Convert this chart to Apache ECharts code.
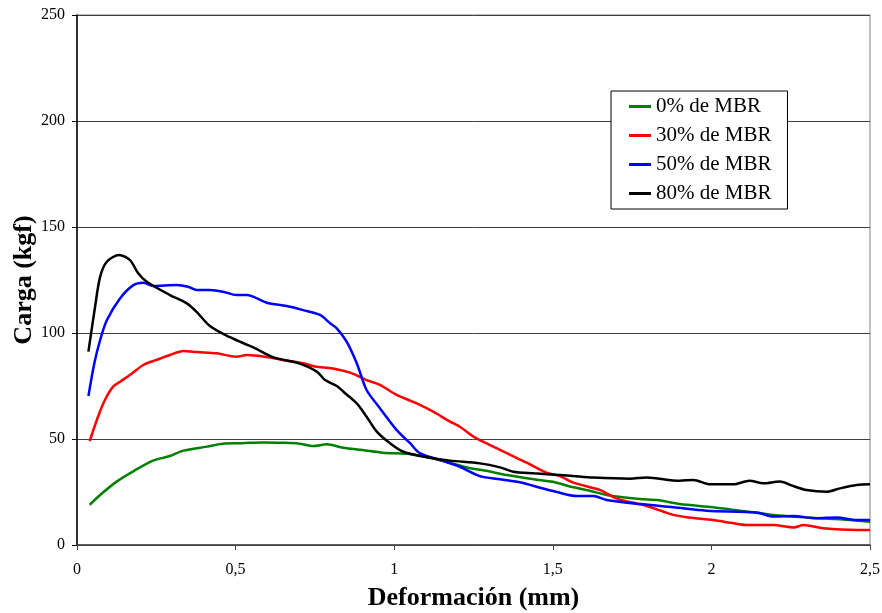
<!DOCTYPE html>
<html>
<head>
<meta charset="utf-8">
<script src="https://cdn.jsdelivr.net/npm/echarts@6/dist/echarts.min.js"></script>
<style>html,body{margin:0;padding:0;background:#fff}#c{width:882px;height:613px}</style>
</head>
<body>
<div id="c"></div>
<script>
var seriesNames = ['0% de MBR', '30% de MBR', '50% de MBR', '80% de MBR'];
var xTicks = [0, 0.5, 1, 1.5, 2, 2.5];
var yTicks = [0, 50, 100, 150, 200, 250];

var mbr0 = [[0.04,19],[0.08,24.5],[0.125,29.9],[0.18,35],[0.24,39.8],[0.293,42],[0.335,44.5],[0.41,46.4],[0.46,47.8],[0.52,48],[0.586,48.4],[0.65,48.2],[0.70,47.8],[0.745,46.7],[0.787,47.5],[0.839,45.9],[0.9,44.8],[0.965,43.5],[1.05,42.9],[1.12,40.9],[1.17,39],[1.23,36.6],[1.29,35],[1.355,33],[1.44,31],[1.5,29.8],[1.565,27.2],[1.62,25.5],[1.67,23.6],[1.775,21.7],[1.83,21.2],[1.90,19.3],[2.005,17.8],[2.09,16.2],[2.195,14.2],[2.30,13],[2.405,12.1],[2.5,11]];

var mbr30 = [[0.04,49],[0.07,62],[0.09,69],[0.114,74.7],[0.136,77],[0.17,80.5],[0.209,84.9],[0.251,87.3],[0.293,89.6],[0.335,91.5],[0.38,91],[0.44,90.4],[0.503,88.8],[0.535,89.6],[0.608,88.4],[0.66,87],[0.713,85.7],[0.75,84.2],[0.807,83.3],[0.861,81.3],[0.913,77.8],[0.955,75.5],[1.008,70.8],[1.071,66.8],[1.123,62.9],[1.176,58.2],[1.207,55.8],[1.25,51.1],[1.29,48],[1.355,43.3],[1.418,38.8],[1.48,34.1],[1.523,32.5],[1.565,29.4],[1.65,25.9],[1.70,22],[1.796,18.4],[1.88,14.2],[1.93,13],[2.005,11.8],[2.06,10.5],[2.11,9.4],[2.195,9.4],[2.26,8.3],[2.29,9.4],[2.353,7.9],[2.458,7.1],[2.5,7.1]];

var mbr50 = [[0.036,70.3],[0.055,86],[0.073,96.7],[0.094,106],[0.136,116.4],[0.178,122.6],[0.209,123.7],[0.24,122.2],[0.314,122.6],[0.35,121.8],[0.377,120.3],[0.419,120.3],[0.46,119.5],[0.503,117.9],[0.535,117.9],[0.598,114.3],[0.661,112.7],[0.713,110.8],[0.766,108.5],[0.798,104.6],[0.819,102.2],[0.85,95.9],[0.882,85.7],[0.913,73.1],[0.955,64.5],[1.008,54.2],[1.05,48],[1.081,43.3],[1.144,40.1],[1.207,36.9],[1.27,32.5],[1.334,31],[1.40,29.5],[1.46,27],[1.51,25.1],[1.575,23.1],[1.628,23.1],[1.67,21.2],[1.775,19.3],[1.88,17.8],[1.985,16.2],[2.143,15.3],[2.195,13.4],[2.258,13.7],[2.33,12.6],[2.395,13],[2.458,11.8],[2.5,11.8]];

var mbr80 = [[0.036,91.2],[0.057,112.4],[0.073,126.6],[0.094,133.6],[0.133,136.8],[0.167,134.4],[0.193,128.2],[0.22,124.2],[0.293,117.9],[0.346,114],[0.377,110],[0.419,103.3],[0.482,98],[0.556,93.2],[0.619,88.5],[0.693,86],[0.756,81.8],[0.782,77.8],[0.819,75],[0.84,72.3],[0.882,66.8],[0.913,60.5],[0.945,53.5],[0.987,48],[1.029,44],[1.102,41.4],[1.176,39.8],[1.27,38.5],[1.334,36.6],[1.375,34.6],[1.44,33.8],[1.523,33],[1.565,32.5],[1.628,31.8],[1.743,31.3],[1.796,31.8],[1.90,30.3],[1.943,30.7],[1.996,28.6],[2.07,28.6],[2.12,30.3],[2.164,29.1],[2.216,29.9],[2.258,27.8],[2.30,25.9],[2.364,25.1],[2.405,26.7],[2.458,28.3],[2.5,28.6]];

var colors = ['#008000', '#ff0000', '#0000ff', '#000000'];
var allData = [mbr0, mbr30, mbr50, mbr80];
var FONT = "'Liberation Serif', 'Times New Roman', serif";

var chart = echarts.init(document.getElementById('c'), null, {renderer: 'canvas'});
chart.setOption({
  animation: false,
  backgroundColor: '#ffffff',
  textStyle: {fontFamily: FONT},
  grid: {left: 77, right: 12, top: 15, bottom: 68, containLabel: false, outerBoundsMode: 'none',
    show: true, borderColor: '#808080', borderWidth: 1, backgroundColor: 'transparent'},
  legend: {
    orient: 'vertical', left: 611, top: 91,
    padding: [5, 16, 5, 18],
    icon: 'rect',
    itemWidth: 22, itemHeight: 3, itemGap: 8,
    backgroundColor: '#ffffff', borderColor: '#000000', borderWidth: 1,
    textStyle: {fontFamily: FONT, fontSize: 21, color: '#000', lineHeight: 21},
    data: seriesNames
  },
  xAxis: {
    type: 'value', min: xTicks[0], max: xTicks[xTicks.length - 1], interval: 0.5,
    name: 'Deformación (mm)', nameLocation: 'middle', nameGap: 40, nameMoveOverlap: false,
    nameTextStyle: {fontFamily: FONT, fontSize: 26, fontWeight: 'bold', color: '#000'},
    axisLine: {lineStyle: {color: '#404040', width: 1.5}},
    axisTick: {show: true, inside: false, length: 5, lineStyle: {color: '#404040'}},
    axisLabel: {fontFamily: FONT, fontSize: 16, color: '#000', margin: 17,
      formatter: function (v) { return String(v).replace('.', ','); }},
    splitLine: {show: false}
  },
  yAxis: {
    type: 'value', min: yTicks[0], max: yTicks[yTicks.length - 1], interval: 50,
    name: 'Carga (kgf)', nameLocation: 'middle', nameGap: 40, nameMoveOverlap: false,
    nameTextStyle: {fontFamily: FONT, fontSize: 26, fontWeight: 'bold', color: '#000'},
    axisLine: {show: true, lineStyle: {color: '#000', width: 1.5}},
    axisTick: {show: true, inside: false, length: 5, lineStyle: {color: '#000'}},
    axisLabel: {fontFamily: FONT, fontSize: 16, color: '#000', margin: 12},
    splitLine: {show: true, lineStyle: {color: '#404040', width: 1}}
  },
  series: allData.map(function (d, i) {
    return {
      name: seriesNames[i], type: 'line', data: d,
      symbol: 'none', showSymbol: false, smooth: 0.3,
      color: colors[i],
      lineStyle: {color: colors[i], width: 2.5}
    };
  })
});
</script>
</body>
</html>
